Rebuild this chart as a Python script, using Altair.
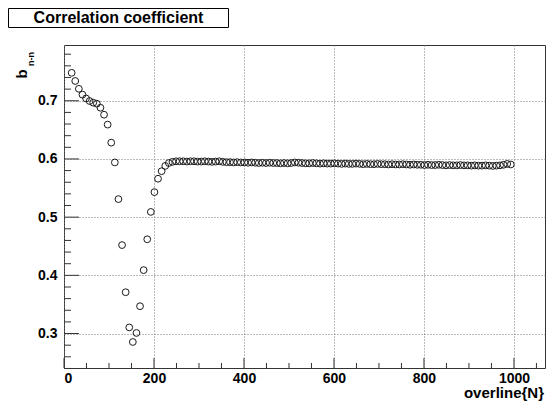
import altair as alt
import pandas as pd

# ---- data ----
x_vals = [17, 25, 33, 41, 49, 57, 65, 73, 81, 89, 97, 105, 113, 121, 129, 137, 145, 153, 161, 169,
          177, 185, 193, 201, 209, 217, 225, 233, 241, 249, 257, 265, 273, 281, 289, 297, 305, 313,
          321, 329, 337, 345, 353, 361, 369, 377, 385, 393, 401, 409, 417, 425, 433, 441, 449, 457,
          465, 473, 481, 489, 497, 505, 513, 521, 529, 537, 545, 553, 561, 569, 577, 585, 593, 601,
          609, 617, 625, 633, 641, 649, 657, 665, 673, 681, 689, 697, 705, 713, 721, 729, 737, 745,
          753, 761, 769, 777, 785, 793, 801, 809, 817, 825, 833, 841, 849, 857, 865, 873, 881, 889,
          897, 905, 913, 921, 929, 937, 945, 953, 961, 969, 977, 985, 993]
b_vals = [0.748, 0.734, 0.7205, 0.7105, 0.704, 0.6995, 0.6967, 0.695, 0.688, 0.676, 0.659, 0.628,
          0.594, 0.531, 0.452, 0.371, 0.3105, 0.2855, 0.301, 0.347, 0.409, 0.462, 0.509, 0.543,
          0.566, 0.579, 0.588, 0.593,
          0.595, 0.596, 0.596, 0.596, 0.5955, 0.596, 0.596, 0.5955, 0.5955, 0.596, 0.5955, 0.595,
          0.5955, 0.596, 0.595, 0.5945, 0.5945, 0.594, 0.5945, 0.594, 0.594, 0.5935, 0.594, 0.5935,
          0.593, 0.5935, 0.593, 0.5935, 0.593, 0.593, 0.5925, 0.593, 0.5925, 0.593, 0.594, 0.5935,
          0.593, 0.5925, 0.5925, 0.593, 0.5925, 0.592, 0.5925, 0.592, 0.592, 0.5925, 0.592, 0.5915,
          0.592, 0.5915, 0.5915, 0.592, 0.5915, 0.591, 0.5915, 0.591, 0.591, 0.5915, 0.591, 0.591,
          0.5905, 0.591, 0.5905, 0.5905, 0.591, 0.5905, 0.590, 0.5905, 0.590, 0.590, 0.5895, 0.590,
          0.5895, 0.5895, 0.590, 0.5895, 0.589, 0.5895, 0.589, 0.589, 0.5895, 0.589, 0.589, 0.5885,
          0.589, 0.5885, 0.5885, 0.589, 0.5885, 0.588, 0.5885, 0.589, 0.590, 0.5915, 0.5905]

x_major = [0, 200, 400, 600, 800, 1000]
x_minor = [50, 100, 150, 250, 300, 350, 450, 500, 550, 650, 700, 750, 850, 900, 950, 1050]
y_major = [0.3, 0.4, 0.5, 0.6, 0.7]
y_minor = [0.24, 0.26, 0.28, 0.32, 0.34, 0.36, 0.38, 0.42, 0.44, 0.46, 0.48, 0.52, 0.54,
           0.56, 0.58, 0.62, 0.64, 0.66, 0.68, 0.72, 0.74, 0.76, 0.78]

title_text = "Correlation coefficient"
y_title = "b"
y_sub = "n-n"
x_title = "overline{N}"

W, H = 481, 323
FONT = "Liberation Sans"
xs = alt.Scale(domain=[0, 1069], nice=False, zero=False)
ys = alt.Scale(domain=[0.2408, 0.7958], nice=False, zero=False)

df = pd.DataFrame({"x": x_vals, "b": b_vals})

points = alt.Chart(df).mark_point(
    shape="circle", filled=False, size=46, strokeWidth=1, color="#1a1a1a", opacity=1
).encode(
    x=alt.X("x:Q", scale=xs, axis=alt.Axis(
        values=x_major, format="d", ticks=False, domain=False, grid=True, gridDash=[1, 2],
        gridColor="#777777", gridWidth=1, labelFont=FONT, labelFontSize=14,
        labelFontWeight="bold", labelColor="#000000", labelPadding=3, title=None)),
    y=alt.Y("b:Q", scale=ys, axis=alt.Axis(
        values=y_major, format=".1f", ticks=False, domain=False, grid=True, gridDash=[1, 2],
        gridColor="#777777", gridWidth=1, labelFont=FONT, labelFontSize=14,
        labelFontWeight="bold", labelColor="#000000", labelPadding=7, title=None)),
)

tick_color = "#333333"
xmaj = alt.Chart(pd.DataFrame({"t": x_major})).mark_rule(color=tick_color, strokeWidth=1).encode(
    x=alt.X("t:Q", scale=xs), y=alt.value(H), y2=alt.value(H - 10))
xmin = alt.Chart(pd.DataFrame({"t": x_minor})).mark_rule(color=tick_color, strokeWidth=1).encode(
    x=alt.X("t:Q", scale=xs), y=alt.value(H), y2=alt.value(H - 5))
ymaj = alt.Chart(pd.DataFrame({"t": y_major})).mark_rule(color=tick_color, strokeWidth=1).encode(
    y=alt.Y("t:Q", scale=ys), x=alt.value(0), x2=alt.value(15))
ymin = alt.Chart(pd.DataFrame({"t": y_minor})).mark_rule(color=tick_color, strokeWidth=1).encode(
    y=alt.Y("t:Q", scale=ys), x=alt.value(0), x2=alt.value(7))

one = pd.DataFrame({"k": [0]})
box = alt.Chart(one).mark_rect(fill="white", stroke="#000000", strokeWidth=1).encode(
    x=alt.value(-55.5), x2=alt.value(164.5), y=alt.value(-36.5), y2=alt.value(-17.5))
title = alt.Chart(one).mark_text(
    text=title_text, font=FONT, fontSize=16, fontWeight="bold", color="#000000",
    align="center", baseline="middle").encode(x=alt.value(54.5), y=alt.value(-27))

ylab_b = alt.Chart(one).mark_text(
    text=y_title, font=FONT, fontSize=15, fontWeight="bold", color="#000000",
    angle=270, align="center", baseline="middle").encode(x=alt.value(-42.5), y=alt.value(29))
ylab_sub = alt.Chart(one).mark_text(
    text=y_sub, font=FONT, fontSize=9, fontWeight="bold", color="#000000",
    angle=270, align="center", baseline="middle").encode(x=alt.value(-33.5), y=alt.value(14))

xlab = alt.Chart(one).mark_text(
    text=x_title, font=FONT, fontSize=15, fontWeight="bold", color="#000000",
    align="right", baseline="alphabetic").encode(x=alt.value(W - 1), y=alt.value(H + 30))

chart = alt.layer(
    points, xmin, xmaj, ymin, ymaj, box, title, ylab_b, ylab_sub, xlab
).properties(
    width=W, height=H,
    padding={"left": 56, "top": 37, "right": 1, "bottom": 33},
    autosize=alt.AutoSizeParams(type="none"),
    background="white",
).configure_view(stroke="#333333", strokeWidth=1)

chart.save("out.html", embed_options={"renderer": "svg", "actions": False})
